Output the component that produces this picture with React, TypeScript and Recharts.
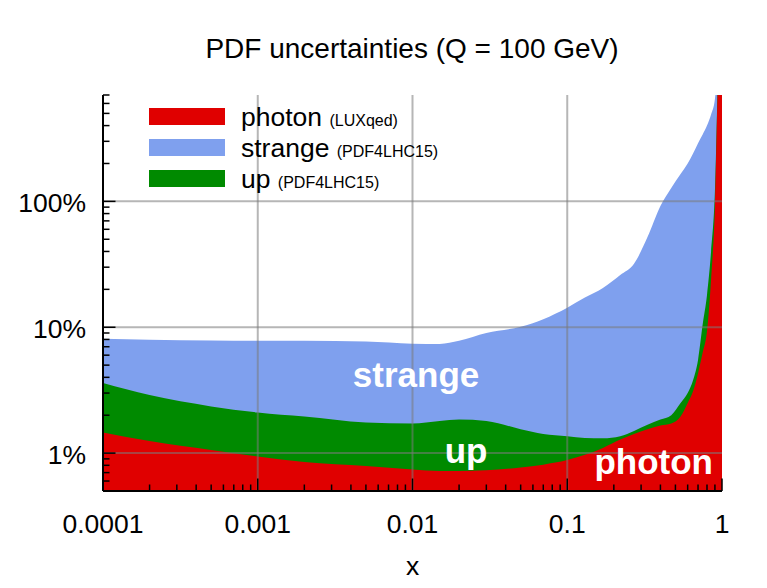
import {
  AreaChart,
  Area,
  XAxis,
  YAxis,
  ReferenceLine,
  ReferenceDot,
  Legend,
} from "recharts";

// x grid (momentum fraction) and uncertainties in percent
const X_VALUES = [
  1e-4, 2e-4, 5e-4, 1e-3, 2e-3, 5e-3, 1e-2, 1.5e-2, 2e-2, 3e-2, 5e-2, 7e-2,
  0.1, 0.13, 0.17, 0.22, 0.27, 0.33, 0.4, 0.47, 0.54, 0.6, 0.65, 0.7, 0.75,
  0.8, 0.85, 0.9, 0.95, 1,
];
const STRANGE = [
  8.1, 7.95, 7.85, 7.8, 7.8, 7.7, 7.4, 7.37, 7.8, 9.0, 10.1, 11.6, 14.3, 17.2,
  20.5, 26, 32, 52, 92, 128, 165, 200, 240, 290, 340, 400, 490, 650, 1500, 5000,
];
const UP = [
  3.6, 2.89, 2.35, 2.1, 1.95, 1.75, 1.72, 1.8, 1.85, 1.8, 1.55, 1.42, 1.36,
  1.32, 1.31, 1.36, 1.5, 1.68, 1.85, 2.0, 2.5, 3.0, 3.8, 5.5, 10.5, 18, 40, 120,
  1500, 5000,
];
const PHOTON = [
  1.46, 1.25, 1.06, 0.94, 0.85, 0.79, 0.74, 0.72, 0.72, 0.73, 0.77, 0.81, 0.88,
  0.97, 1.1, 1.28, 1.42, 1.55, 1.66, 1.72, 1.95, 2.5, 3.1, 4.3, 6.3, 9.3, 24, 90,
  1500, 5000,
];

const X_MAJOR = [1e-4, 1e-3, 1e-2, 1e-1, 1];
const X_TICK_LABELS = ["0.0001", "0.001", "0.01", "0.1", "1"];
const Y_MAJOR = [1, 10, 100];
const Y_TICK_LABELS = ["1%", "10%", "100%"];
const X_DOMAIN = [1e-4, 1];
const Y_DOMAIN = [0.5, 700];

const LEGEND_NAMES = ["photon", "strange", "up"];
const LEGEND_NOTES = ["(LUXqed)", "(PDF4LHC15)", "(PDF4LHC15)"];

const ANNOT_TEXT = ["strange", "up", "photon"];
const ANNOT_X = [0.01054, 0.0222, 0.362];
const ANNOT_Y = [3.36, 0.829, 0.677];

const RED = "#e00000";
const BLUE = "#7fa0ee";
const GREEN = "#008a00";
const LEGEND_COLORS = [RED, BLUE, GREEN];

const FONT = '"Liberation Sans", Arial, Helvetica, sans-serif';
const MAJOR_LEN = 12.5;
const MINOR_LEN = 6.5;

const rows = X_VALUES.map((x, i) => ({
  x,
  strange: STRANGE[i],
  up: UP[i],
  photon: PHOTON[i],
}));

const steps = [2, 3, 4, 5, 6, 7, 8, 9];
const xTicks = [
  ...X_MAJOR,
  ...X_MAJOR.slice(0, -1).flatMap((m) => steps.map((k) => k * m)),
];
const yTicks = [0.1, 1, 10, 100]
  .flatMap((m) => [m, ...steps.map((k) => k * m)])
  .filter((v) => v >= Y_DOMAIN[0] - 1e-9 && v <= Y_DOMAIN[1] + 1e-9);

function majorIndex(list: number[], v: number) {
  return list.findIndex((m) => Math.abs(m - v) / m < 1e-6);
}

function BottomTick(props: any) {
  const { x, y, payload } = props;
  const i = majorIndex(X_MAJOR, payload.value);
  return (
    <g>
      <line x1={x} x2={x} y1={y} y2={y - (i >= 0 ? MAJOR_LEN : MINOR_LEN)} stroke="#000" strokeWidth={1.5} />
      {i >= 0 && (
        <text x={x} y={y + 41.5} textAnchor="middle" fontSize={26.5} fill="#000">
          {X_TICK_LABELS[i]}
        </text>
      )}
    </g>
  );
}

function TopTick(props: any) {
  const { x, y, payload } = props;
  const major = majorIndex(X_MAJOR, payload.value) >= 0;
  return <line x1={x} x2={x} y1={y} y2={y + (major ? MAJOR_LEN : MINOR_LEN)} stroke="#000" strokeWidth={1.5} />;
}

function LeftTick(props: any) {
  const { x, y, payload } = props;
  const i = majorIndex(Y_MAJOR, payload.value);
  return (
    <g>
      <line x1={x} x2={x + (i >= 0 ? MAJOR_LEN : MINOR_LEN)} y1={y} y2={y} stroke="#000" strokeWidth={1.5} />
      {i >= 0 && (
        <text x={x - 17} y={y + 11} textAnchor="end" fontSize={26.5} fill="#000">
          {Y_TICK_LABELS[i]}
        </text>
      )}
    </g>
  );
}

function RightTick(props: any) {
  const { x, y, payload } = props;
  const major = majorIndex(Y_MAJOR, payload.value) >= 0;
  return <line x1={x} x2={x - (major ? MAJOR_LEN : MINOR_LEN)} y1={y} y2={y} stroke="#000" strokeWidth={1.5} />;
}

function LegendBox() {
  return (
    <div>
      {LEGEND_NAMES.map((name, i) => (
        <div key={name} style={{ display: "flex", alignItems: "flex-start", height: 31 }}>
          <div style={{ width: 76, height: 17, background: LEGEND_COLORS[i] }} />
          <div
            style={{
              marginLeft: 16,
              marginTop: -1,
              lineHeight: "20px",
              fontSize: 26.5,
              color: "#000",
              whiteSpace: "nowrap",
            }}
          >
            {name} <span style={{ fontSize: 16 }}>{LEGEND_NOTES[i]}</span>
          </div>
        </div>
      ))}
    </div>
  );
}

const annotLabel = (text: string) => (props: any) => {
  const vb = props.viewBox || {};
  const cx = (vb.x ?? 0) + (vb.width ?? 0) / 2;
  const cy = (vb.y ?? 0) + (vb.height ?? 0) / 2;
  return (
    <text x={cx} y={cy} textAnchor="middle" fontSize={35} fontWeight="bold" fill="#fff">
      {text}
    </text>
  );
};

const axisLine = { stroke: "#000", strokeWidth: 2 };

export default function App() {
  return (
    <div style={{ position: "relative", width: 759, height: 580, fontFamily: FONT }}>
      <div
        style={{
          position: "absolute",
          top: 27.3,
          left: 104,
          width: 600,
          textAlign: "center",
          fontSize: 28,
          lineHeight: "28px",
          color: "#000",
        }}
      >
        PDF uncertainties (Q = 100 GeV)
      </div>
      <AreaChart
        width={759}
        height={572}
        data={rows}
        margin={{ top: 87, right: 45, bottom: 0, left: 0 }}
      >
        <Area
          type="monotone"
          dataKey="strange"
          fill={BLUE}
          fillOpacity={1}
          stroke="none"
          baseValue={Y_DOMAIN[0]}
          isAnimationActive={false}
        />
        <Area
          type="monotone"
          dataKey="up"
          fill={GREEN}
          fillOpacity={1}
          stroke="none"
          baseValue={Y_DOMAIN[0]}
          isAnimationActive={false}
        />
        <Area
          type="monotone"
          dataKey="photon"
          fill={RED}
          fillOpacity={1}
          stroke="none"
          baseValue={Y_DOMAIN[0]}
          isAnimationActive={false}
        />
        {X_MAJOR.slice(1, -1).map((v) => (
          <ReferenceLine key={"gx" + v} x={v} stroke="#7a7a7a" strokeOpacity={0.55} strokeWidth={2} />
        ))}
        {Y_MAJOR.map((v) => (
          <ReferenceLine key={"gy" + v} y={v} stroke="#7a7a7a" strokeOpacity={0.55} strokeWidth={2} />
        ))}
        {ANNOT_TEXT.map((t, i) => (
          <ReferenceDot
            key={t}
            x={ANNOT_X[i]}
            y={ANNOT_Y[i]}
            r={1}
            fillOpacity={0}
            stroke="none"
            label={annotLabel(t)}
          />
        ))}
        <XAxis
          dataKey="x"
          type="number"
          scale="log"
          domain={X_DOMAIN}
          allowDataOverflow
          ticks={xTicks}
          interval={0}
          tick={<BottomTick />}
          tickLine={false}
          tickSize={0}
          tickMargin={0}
          axisLine={axisLine}
          height={89}
          label={{ value: "x", position: "insideBottom", offset: 5, fontSize: 26.5, fill: "#000" }}
        />
        <XAxis
          xAxisId="top"
          orientation="top"
          dataKey="x"
          type="number"
          scale="log"
          domain={X_DOMAIN}
          allowDataOverflow
          ticks={xTicks}
          interval={0}
          tick={<TopTick />}
          tickLine={false}
          tickSize={0}
          tickMargin={0}
          axisLine={axisLine}
          height={0}
        />
        <YAxis
          type="number"
          scale="log"
          domain={Y_DOMAIN}
          allowDataOverflow
          ticks={yTicks}
          interval={0}
          tick={<LeftTick />}
          tickLine={false}
          tickSize={0}
          tickMargin={0}
          axisLine={axisLine}
          width={95}
        />
        <YAxis
          yAxisId="right"
          orientation="right"
          type="number"
          scale="log"
          domain={Y_DOMAIN}
          allowDataOverflow
          ticks={yTicks}
          interval={0}
          tick={<RightTick />}
          tickLine={false}
          tickSize={0}
          tickMargin={0}
          axisLine={axisLine}
          width={0}
        />
        <Legend
          layout="horizontal"
          verticalAlign="middle"
          align="center"
          content={<LegendBox />}
          wrapperStyle={{ position: "absolute", top: 100.3, left: 141, width: "auto" }}
        />
      </AreaChart>
    </div>
  );
}
